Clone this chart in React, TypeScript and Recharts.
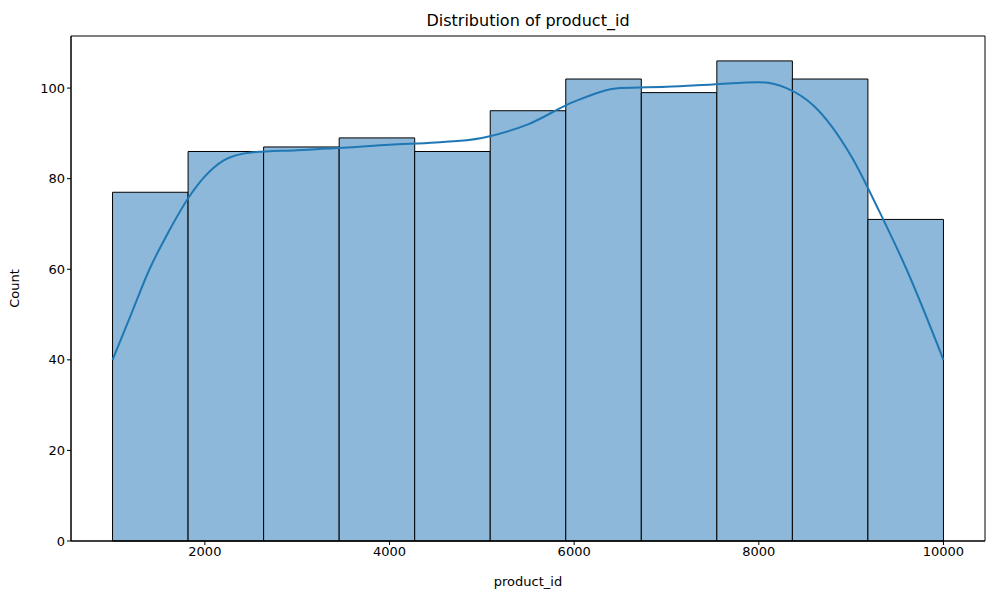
import React from "react";
import {
  ComposedChart,
  Line,
  XAxis,
  YAxis,
  ReferenceArea,
  Label,
} from "recharts";

const BIN_START = 1000;
const BIN_END = 10000;
const COUNTS = [77, 86, 87, 89, 86, 95, 102, 99, 106, 102, 71];
const KDE_X = [1000, 1200, 1400, 1600, 1830, 2000, 2200, 2500, 3000, 3500, 4000, 4500, 5000, 5500, 6000, 6500, 7000, 7500, 8000, 8300, 8600, 9000, 9300, 9600, 10000];
const KDE_Y = [40, 50, 60, 68, 76, 80.5, 84, 85.8, 86.3, 86.8, 87.5, 88, 89, 92, 97, 100, 100.3, 100.8, 101.3, 100, 96, 85, 73, 60, 40];
const X_TICKS = [2000, 4000, 6000, 8000, 10000];
const Y_TICKS = [0, 20, 40, 60, 80, 100];

const binW = (BIN_END - BIN_START) / COUNTS.length;
const kde = KDE_X.map((x, i) => ({ x, y: KDE_Y[i] }));
const font = "DejaVu Sans, sans-serif";

export default function App() {
  return (
    <div style={{ position: "absolute", left: 0, top: 0, width: 1000, height: 600, background: "#fff", fontFamily: font }}>
      <div style={{ position: "absolute", left: 71, width: 914, top: 11, textAlign: "center", fontSize: 16, color: "#000" }}>
        Distribution of product_id
      </div>
      <ComposedChart width={1000} height={600} data={kde} margin={{ top: 36, right: 15, bottom: 0, left: 0 }}>
        <XAxis
          type="number"
          dataKey="x"
          domain={[550, 10450]}
          ticks={X_TICKS}
          height={59}
          stroke="#000"
          tick={{ fill: "#000", fontSize: 13, fontFamily: font }}
          tickSize={4}
        >
          <Label value="product_id" position="insideBottom" offset={14} style={{ fill: "#000", fontSize: 13, fontFamily: font }} />
        </XAxis>
        <YAxis
          type="number"
          domain={[0, 111.5]}
          ticks={Y_TICKS}
          width={71}
          stroke="#000"
          tick={{ fill: "#000", fontSize: 13, fontFamily: font }}
          tickSize={4}
        >
          <Label value="Count" angle={-90} position="insideLeft" offset={14} style={{ fill: "#000", fontSize: 13, fontFamily: font, textAnchor: "middle" }} />
        </YAxis>
        {COUNTS.map((c, i) => (
          <ReferenceArea
            key={i}
            x1={BIN_START + i * binW}
            x2={BIN_START + (i + 1) * binW}
            y1={0}
            y2={c}
            fill="#8db8d9"
            fillOpacity={1}
            stroke="#000"
            strokeWidth={1}
            ifOverflow="visible"
          />
        ))}
        <Line type="monotone" dataKey="y" stroke="#1f77b4" strokeWidth={2} dot={false} isAnimationActive={false} />
        <ReferenceArea x1={550} x2={10450} y1={0} y2={111.5} fill="none" stroke="#000" strokeWidth={1} />
      </ComposedChart>
    </div>
  );
}
